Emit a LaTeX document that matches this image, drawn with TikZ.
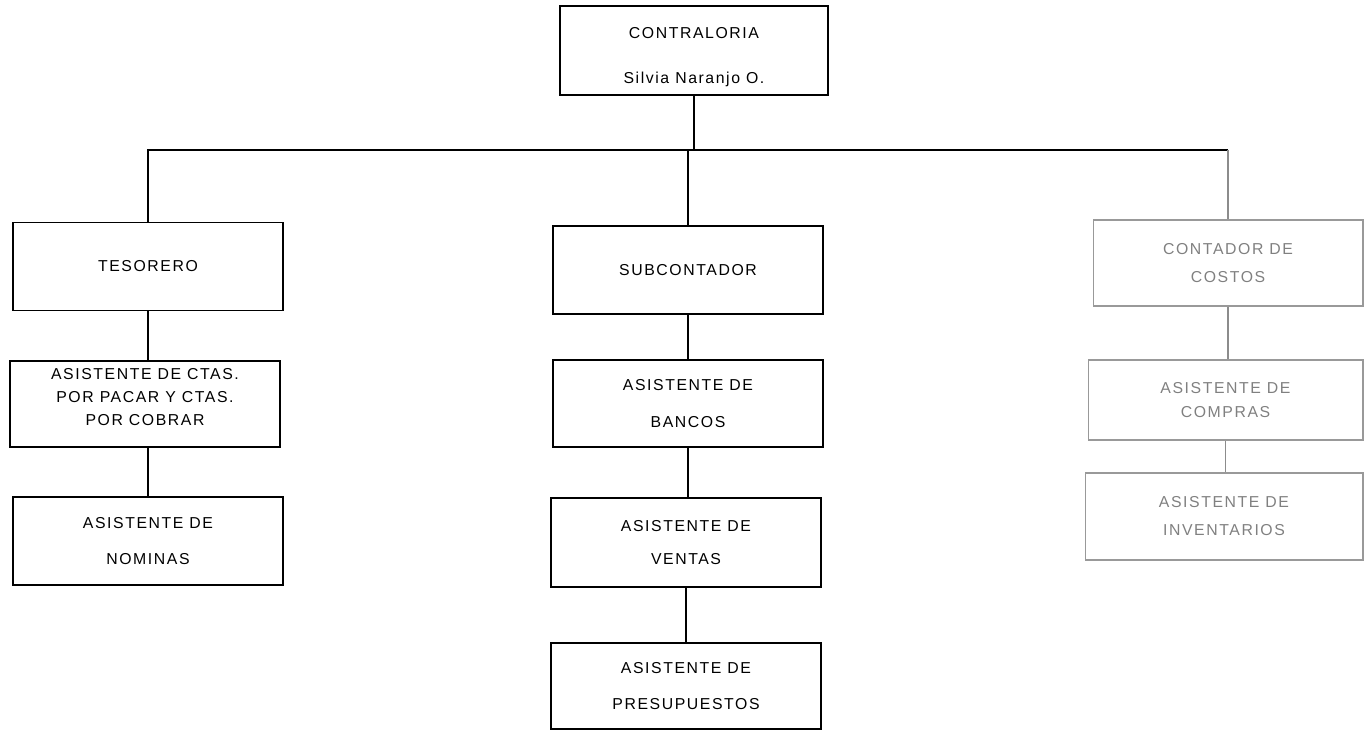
\documentclass[tikz,border=0pt]{standalone}
\usepackage{fontspec}
\setmainfont[LetterSpace=10]{Liberation Sans}
\usetikzlibrary{calc}

\tikzset{
  orgbox/.style={draw, line width=0.9pt, inner sep=0pt, align=center,
                 minimum width=5.4cm, minimum height=1.76cm,
                 font=\fontsize{9}{10}\selectfont},
  fadedbox/.style={orgbox, draw=black!40, text=black!50, line width=0.6pt},
  link/.style={line width=0.9pt},
  fadedlink/.style={line width=0.6pt, draw=black!45}
}

\begin{document}
\begin{tikzpicture}[x=0.02cm, y=-0.02cm]
  % Define dimensions
  \useasboundingbox (0,0) rectangle (1365,732);

  % Define points
  \coordinate (bus) at (0,150);

  % Head
  \node[orgbox, minimum width=5.36cm, minimum height=1.78cm] (ctrl) at (694,50.5)
       {\rule{0pt}{14pt}CONTRALORIA\\[16pt]Silvia Naranjo O.};

  % Left column
  \node[orgbox] (tes) at (148,266.5) {TESORERO};
  \node[orgbox, minimum height=1.72cm] (ctas) at (145,404)
       {ASISTENTE DE CTAS.\\[3pt]POR PACAR Y CTAS.\\[3pt]POR COBRAR\rule[-8pt]{0pt}{0pt}};
  \node[orgbox] (nom) at (148,541) {ASISTENTE DE\\[10pt]NOMINAS};

  % Middle column
  \node[orgbox] (sub) at (688,270) {SUBCONTADOR};
  \node[orgbox, minimum height=1.74cm] (ban) at (688,403.5) {ASISTENTE DE\\[11pt]BANCOS};
  \node[orgbox, minimum height=1.78cm] (ven) at (686,542.5) {ASISTENTE DE\\[9pt]VENTAS};
  \node[orgbox, minimum height=1.72cm] (pre) at (686,686) {ASISTENTE DE\\[10pt]PRESUPUESTOS};

  % Right column (faded in the copy)
  \node[fadedbox, minimum height=1.72cm] (cos) at (1228,263) {CONTADOR DE\\[6pt]COSTOS};
  \node[fadedbox, minimum width=5.5cm, minimum height=1.6cm] (com) at (1225.5,400)
       {ASISTENTE DE\\[4pt]COMPRAS};
  \node[fadedbox, minimum width=5.56cm, minimum height=1.74cm] (inv) at (1224,516.5)
       {ASISTENTE DE\\[6pt]INVENTARIOS};

  % Draw links
  \draw[link] (ctrl.south) -- (ctrl.south |- bus);
  \draw[link] (tes.north) -- (tes.north |- bus) -- (cos.north |- bus);
  \draw[link] (sub.north) -- (sub.north |- bus);
  \draw[fadedlink] (cos.north |- bus) -- (cos.north);

  \draw[link] (tes.south) -- (tes.south |- ctas.north);
  \draw[link] (ctas.south -| tes.south) -- (tes.south |- nom.north);

  \draw[link] (sub.south) -- (sub.south |- ban.north);
  \draw[link] (ban.south) -- (ban.south |- ven.north);
  \draw[link] (ven.south) -- (ven.south |- pre.north);

  \draw[fadedlink] (cos.south) -- (cos.south |- com.north);
  \draw[fadedlink] (com.south) -- (com.south |- inv.north);
\end{tikzpicture}
\end{document}
